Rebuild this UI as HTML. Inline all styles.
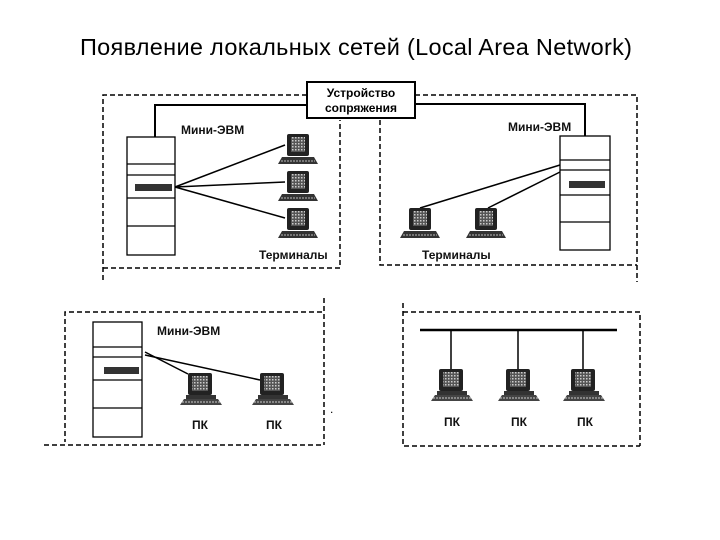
<!DOCTYPE html>
<html><head><meta charset="utf-8"><style>
html,body{margin:0;padding:0;background:#fff}
svg{display:block}
text{font-family:"Liberation Sans","DejaVu Sans",sans-serif}
</style></head><body>
<svg width="720" height="540" viewBox="0 0 720 540" xmlns="http://www.w3.org/2000/svg">
<defs>
<pattern id="sp" width="3" height="3" patternUnits="userSpaceOnUse">
<rect width="3" height="3" fill="#555"/><rect width="1.5" height="1.5" fill="#ccc"/>
</pattern>
<g id="pc">
<rect x="-12" y="-12" width="24" height="22" rx="2" fill="#222"/>
<rect x="-8" y="-9" width="16" height="15" fill="url(#sp)"/>
<rect x="-14" y="10" width="30" height="4" fill="#333"/>
<polygon points="-20,20 -16,14 18,14 22,20" fill="#444"/>
<line x1="-18" y1="17" x2="20" y2="17" stroke="#ccc" stroke-width="1" stroke-dasharray="2,1"/>
</g>
<g id="term">
<rect x="-11" y="-12" width="22" height="22" rx="2" fill="#222"/>
<rect x="-7" y="-9" width="14" height="15" fill="url(#sp)"/>
<polygon points="-20,18 -16,11 16,11 20,18" fill="#333"/>
<line x1="-17" y1="15" x2="17" y2="15" stroke="#bbb" stroke-width="1" stroke-dasharray="2,1"/>
</g>
</defs>

<text x="80" y="55" font-size="23.5" textLength="552" fill="#000">Появление локальных сетей (Local Area Network)</text>

<g fill="none" stroke="#000" stroke-width="1.5" stroke-dasharray="5,3">
<polyline points="307,95 103,95 103,282"/>
<polyline points="103,268 340,268 340,120"/>
<polyline points="415,95 637,95 637,282"/>
<polyline points="380,120 380,265 637,265"/>
<polyline points="322,312 65,312 65,442"/>
<polyline points="324,298 324,445"/>
<line x1="44" y1="445" x2="324" y2="445"/>
<polyline points="403,303 403,446 640,446"/>
<polyline points="403,312 640,312 640,446"/>
</g>

<g fill="none" stroke="#000" stroke-width="2">
<polyline points="307,105 155,105 155,137"/>
<polyline points="415,104 585,104 585,136"/>
</g>
<rect x="307" y="82" width="108" height="36" fill="#fff" stroke="#000" stroke-width="2"/>
<text x="361" y="97" font-size="12" font-weight="bold" text-anchor="middle">Устройство</text>
<text x="361" y="112" font-size="12" font-weight="bold" text-anchor="middle">сопряжения</text>

<g stroke="#000" stroke-width="1.3" fill="#fff">
<rect x="127" y="137" width="48" height="118"/>
<line x1="127" y1="164" x2="175" y2="164"/>
<line x1="127" y1="175" x2="175" y2="175"/>
<line x1="127" y1="198" x2="175" y2="198"/>
<line x1="127" y1="226" x2="175" y2="226"/>
</g>
<rect x="135" y="184" width="37" height="7" fill="#333"/>
<g stroke="#000" stroke-width="1.5">
<line x1="175" y1="187" x2="285" y2="145"/>
<line x1="175" y1="187" x2="285" y2="182"/>
<line x1="175" y1="187" x2="285" y2="218"/>
</g>
<use href="#term" x="298" y="146"/>
<use href="#term" x="298" y="183"/>
<use href="#term" x="298" y="220"/>
<g font-size="12" font-weight="bold" fill="#111">
<text x="181" y="134">Мини-ЭВМ</text>
<text x="259" y="259">Терминалы</text>
<text x="508" y="131">Мини-ЭВМ</text>
<text x="422" y="259">Терминалы</text>
<text x="157" y="335">Мини-ЭВМ</text>
<text x="200" y="429" text-anchor="middle">ПК</text>
<text x="274" y="429" text-anchor="middle">ПК</text>
<text x="452" y="426" text-anchor="middle">ПК</text>
<text x="519" y="426" text-anchor="middle">ПК</text>
<text x="585" y="426" text-anchor="middle">ПК</text>
</g>

<g stroke="#000" stroke-width="1.3" fill="#fff">
<rect x="560" y="136" width="50" height="114"/>
<line x1="560" y1="160" x2="610" y2="160"/>
<line x1="560" y1="170" x2="610" y2="170"/>
<line x1="560" y1="195" x2="610" y2="195"/>
<line x1="560" y1="222" x2="610" y2="222"/>
</g>
<rect x="569" y="181" width="36" height="7" fill="#333"/>
<g stroke="#000" stroke-width="1.5">
<line x1="560" y1="165" x2="420" y2="208"/>
<line x1="560" y1="172" x2="488" y2="208"/>
</g>
<use href="#term" x="420" y="220"/>
<use href="#term" x="486" y="220"/>

<g stroke="#000" stroke-width="1.3" fill="#fff">
<rect x="93" y="322" width="49" height="115"/>
<line x1="93" y1="347" x2="142" y2="347"/>
<line x1="93" y1="357" x2="142" y2="357"/>
<line x1="93" y1="380" x2="142" y2="380"/>
<line x1="93" y1="408" x2="142" y2="408"/>
</g>
<rect x="104" y="367" width="35" height="7" fill="#333"/>
<g stroke="#000" stroke-width="1.5">
<line x1="145" y1="352" x2="188" y2="374"/>
<line x1="145" y1="355" x2="260" y2="380"/>
</g>
<use href="#pc" x="200" y="385"/>
<use href="#pc" x="272" y="385"/>
<text x="330" y="413" font-size="12">.</text>

<g stroke="#000">
<line x1="420" y1="330" x2="617" y2="330" stroke-width="2.5"/>
<line x1="451" y1="330" x2="451" y2="370" stroke-width="1.5"/>
<line x1="518" y1="330" x2="518" y2="370" stroke-width="1.5"/>
<line x1="583" y1="330" x2="583" y2="370" stroke-width="1.5"/>
</g>
<use href="#pc" x="451" y="381"/>
<use href="#pc" x="518" y="381"/>
<use href="#pc" x="583" y="381"/>
</svg>
</body></html>
